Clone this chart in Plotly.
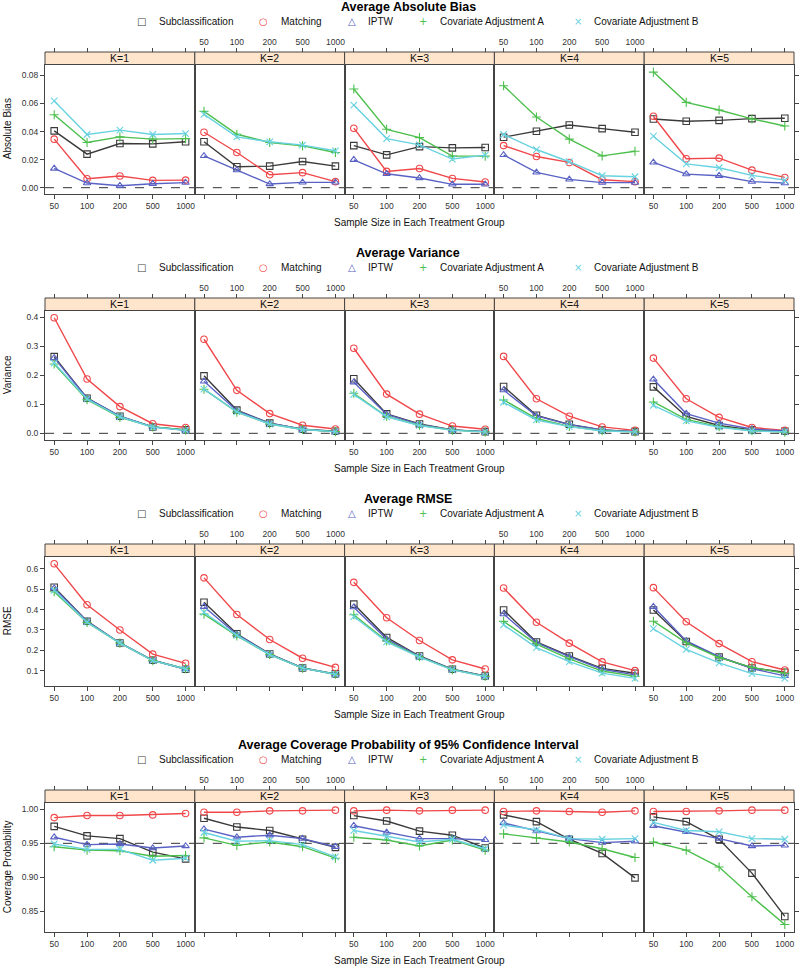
import plotly.graph_objects as go

W, H = 800, 969

sample_sizes = ["50", "100", "200", "500", "1000"]
k_labels = ["K=1", "K=2", "K=3", "K=4", "K=5"]
methods = ["Subclassification", "Matching", "IPTW",
           "Covariate Adjustment A", "Covariate Adjustment B"]

# each list: one row per K (1..5), columns follow sample_sizes
bias_sub = [
    [0.0405, 0.0239, 0.0315, 0.0312, 0.0327],
    [0.0327, 0.0149, 0.0154, 0.0187, 0.0154],
    [0.0300, 0.0234, 0.0293, 0.0284, 0.0286],
    [0.0360, 0.0402, 0.0447, 0.0421, 0.0395],
    [0.0490, 0.0473, 0.0480, 0.0492, 0.0495],
]
bias_match = [
    [0.0346, 0.0064, 0.0083, 0.0052, 0.0054],
    [0.0395, 0.0251, 0.0092, 0.0107, 0.0043],
    [0.0424, 0.0116, 0.0137, 0.0066, 0.0040],
    [0.0300, 0.0222, 0.0180, 0.0057, 0.0043],
    [0.0509, 0.0206, 0.0211, 0.0125, 0.0073],
]
bias_iptw = [
    [0.0137, 0.0033, 0.0014, 0.0028, 0.0036],
    [0.0227, 0.0125, 0.0026, 0.0038, 0.0038],
    [0.0199, 0.0099, 0.0069, 0.0024, 0.0024],
    [0.0234, 0.0109, 0.0059, 0.0036, 0.0036],
    [0.0180, 0.0097, 0.0085, 0.0043, 0.0033],
]
bias_cova = [
    [0.0520, 0.0322, 0.0362, 0.0346, 0.0350],
    [0.0544, 0.0381, 0.0322, 0.0298, 0.0251],
    [0.0703, 0.0416, 0.0357, 0.0225, 0.0225],
    [0.0727, 0.0504, 0.0346, 0.0227, 0.0260],
    [0.0824, 0.0608, 0.0554, 0.0490, 0.0440],
]
bias_covb = [
    [0.0618, 0.0379, 0.0410, 0.0379, 0.0386],
    [0.0523, 0.0362, 0.0327, 0.0303, 0.0263],
    [0.0589, 0.0350, 0.0305, 0.0204, 0.0232],
    [0.0379, 0.0272, 0.0185, 0.0085, 0.0078],
    [0.0367, 0.0170, 0.0142, 0.0088, 0.0054],
]

var_sub = [
    [0.264, 0.121, 0.059, 0.022, 0.012],
    [0.198, 0.080, 0.035, 0.014, 0.007],
    [0.188, 0.067, 0.032, 0.012, 0.006],
    [0.161, 0.062, 0.031, 0.012, 0.006],
    [0.160, 0.058, 0.027, 0.012, 0.007],
]
var_match = [
    [0.398, 0.187, 0.092, 0.033, 0.020],
    [0.324, 0.148, 0.068, 0.028, 0.015],
    [0.293, 0.135, 0.066, 0.025, 0.014],
    [0.265, 0.119, 0.059, 0.022, 0.010],
    [0.259, 0.119, 0.055, 0.020, 0.010],
]
var_iptw = [
    [0.260, 0.121, 0.058, 0.022, 0.010],
    [0.179, 0.078, 0.035, 0.014, 0.006],
    [0.176, 0.065, 0.031, 0.012, 0.006],
    [0.149, 0.060, 0.030, 0.012, 0.006],
    [0.186, 0.068, 0.035, 0.015, 0.008],
]
var_cova = [
    [0.239, 0.116, 0.055, 0.022, 0.012],
    [0.152, 0.073, 0.032, 0.013, 0.006],
    [0.138, 0.058, 0.028, 0.011, 0.005],
    [0.115, 0.051, 0.024, 0.009, 0.005],
    [0.108, 0.048, 0.023, 0.009, 0.004],
]
var_covb = [
    [0.242, 0.118, 0.057, 0.021, 0.010],
    [0.152, 0.074, 0.032, 0.013, 0.006],
    [0.134, 0.057, 0.027, 0.010, 0.005],
    [0.107, 0.046, 0.023, 0.008, 0.005],
    [0.096, 0.043, 0.021, 0.008, 0.005],
]

rmse_sub = [
    [0.510, 0.343, 0.236, 0.151, 0.107],
    [0.436, 0.281, 0.182, 0.113, 0.084],
    [0.427, 0.263, 0.172, 0.107, 0.074],
    [0.398, 0.241, 0.172, 0.111, 0.087],
    [0.398, 0.243, 0.167, 0.113, 0.092],
]
rmse_match = [
    [0.625, 0.424, 0.300, 0.181, 0.136],
    [0.556, 0.376, 0.253, 0.161, 0.116],
    [0.534, 0.360, 0.248, 0.153, 0.108],
    [0.506, 0.338, 0.235, 0.143, 0.100],
    [0.508, 0.340, 0.233, 0.144, 0.103],
]
rmse_iptw = [
    [0.505, 0.342, 0.236, 0.151, 0.108],
    [0.414, 0.278, 0.181, 0.113, 0.082],
    [0.412, 0.255, 0.170, 0.106, 0.073],
    [0.378, 0.238, 0.169, 0.107, 0.079],
    [0.414, 0.246, 0.169, 0.110, 0.074],
]
rmse_cova = [
    [0.488, 0.337, 0.235, 0.149, 0.110],
    [0.378, 0.271, 0.179, 0.112, 0.082],
    [0.375, 0.246, 0.168, 0.105, 0.072],
    [0.342, 0.230, 0.158, 0.098, 0.072],
    [0.343, 0.237, 0.164, 0.116, 0.087],
]
rmse_covb = [
    [0.495, 0.338, 0.235, 0.149, 0.108],
    [0.386, 0.273, 0.179, 0.112, 0.082],
    [0.366, 0.241, 0.166, 0.104, 0.071],
    [0.325, 0.213, 0.144, 0.088, 0.062],
    [0.306, 0.205, 0.138, 0.085, 0.062],
]

cover_sub = [
    [0.975, 0.961, 0.957, 0.937, 0.927],
    [0.987, 0.974, 0.969, 0.956, 0.944],
    [0.991, 0.983, 0.968, 0.962, 0.943],
    [0.992, 0.982, 0.956, 0.935, 0.899],
    [0.989, 0.982, 0.956, 0.906, 0.842],
]
cover_match = [
    [0.988, 0.991, 0.991, 0.992, 0.994],
    [0.996, 0.996, 0.998, 0.998, 0.999],
    [0.998, 0.999, 0.998, 0.999, 0.999],
    [0.997, 0.998, 0.997, 0.996, 0.998],
    [0.997, 0.997, 0.998, 0.999, 0.999],
]
cover_iptw = [
    [0.959, 0.948, 0.949, 0.943, 0.946],
    [0.971, 0.959, 0.962, 0.957, 0.945],
    [0.976, 0.966, 0.957, 0.957, 0.955],
    [0.980, 0.968, 0.957, 0.951, 0.953],
    [0.976, 0.967, 0.957, 0.946, 0.947],
]
cover_cova = [
    [0.945, 0.940, 0.939, 0.931, 0.932],
    [0.958, 0.947, 0.952, 0.945, 0.928],
    [0.959, 0.955, 0.946, 0.955, 0.940],
    [0.964, 0.958, 0.952, 0.942, 0.929],
    [0.952, 0.940, 0.915, 0.871, 0.830],
]
cover_covb = [
    [0.949, 0.941, 0.941, 0.925, 0.928],
    [0.966, 0.953, 0.954, 0.948, 0.930],
    [0.969, 0.960, 0.952, 0.956, 0.942],
    [0.977, 0.970, 0.957, 0.956, 0.957],
    [0.981, 0.969, 0.967, 0.957, 0.956],
]

FONT = "Liberation Sans, Arial, Helvetica, sans-serif"
AXIS_COLOR = "#444444"
TICK_FONT = dict(family=FONT, size=8.5, color="#333333")
STRIP_FILL = "#FFE5CC"

COLORS = ["#3a3a3a", "#F0474A", "#5962C4", "#4DBF4D", "#68D2E0"]
SYMBOLS = ["square-open", "circle-open", "triangle-up-open", "cross-thin-open", "x-thin-open"]
LEGEND_GLYPHS = ["\u25a1", "\u25cb", "\u25b3", "+", "\u00d7"]

metrics = [
    dict(title="Average Absolute Bias", ylab="Absolute Bias",
         series=[bias_sub, bias_match, bias_iptw, bias_cova, bias_covb],
         yrange=[-0.0045, 0.0878], ticks=[0.0, 0.02, 0.04, 0.06, 0.08], fmt=".2f", ref=0.0),
    dict(title="Average Variance", ylab="Variance",
         series=[var_sub, var_match, var_iptw, var_cova, var_covb],
         yrange=[-0.023, 0.423], ticks=[0.0, 0.1, 0.2, 0.3, 0.4], fmt=".1f", ref=0.0),
    dict(title="Average RMSE", ylab="RMSE",
         series=[rmse_sub, rmse_match, rmse_iptw, rmse_cova, rmse_covb],
         yrange=[0.0245, 0.661], ticks=[0.1, 0.2, 0.3, 0.4, 0.5, 0.6], fmt=".1f", ref=None),
    dict(title="Average Coverage Probability of 95% Confidence Interval",
         ylab="Coverage Probability",
         series=[cover_sub, cover_match, cover_iptw, cover_cova, cover_covb],
         yrange=[0.819, 1.0103], ticks=[0.85, 0.90, 0.95, 1.00], fmt=".2f", ref=0.95),
]

# pixel layout of the lattice
PANEL_X0, PANEL_W = 45.0, 149.8
ROW_STEP = 246
XRANGE = [-0.28, 4.28]
LEGEND_SYM_X = [141, 263, 352, 423, 578]
LEGEND_TXT_X = [157, 279, 366, 438, 592]


def fx(p):
    return p / W


def fy(p):
    return 1 - p / H


def ax_name(letter, n):
    return f"{letter}axis" if n == 1 else f"{letter}axis{n}"


def ax_ref(letter, n):
    return letter if n == 1 else f"{letter}{n}"


def label(text, x, y, size=10, color="#111111", family=FONT, xanchor="center", **kw):
    return dict(text=text, xref="paper", yref="paper", x=x, y=y,
                xanchor=xanchor, yanchor="middle", showarrow=False,
                font=dict(family=family, size=size, color=color), **kw)


fig = go.Figure()
layout = {}
shapes = []
annotations = []

for r, m in enumerate(metrics):
    off = ROW_STEP * r
    strip_top, strip_bot, panel_bot = 52 + off, 64.5 + off, 194 + off
    ydom = [fy(panel_bot), fy(strip_bot)]

    for c in range(5):
        n = r * 5 + c + 1
        top_n = 20 + n
        x0p = PANEL_X0 + PANEL_W * c
        xdom = [fx(x0p), fx(x0p + PANEL_W)]

        for s, series in enumerate(m["series"]):
            fig.add_trace(go.Scatter(
                x=sample_sizes, y=series[c], mode="lines+markers",
                name=methods[s], showlegend=False,
                line=dict(color=COLORS[s], width=1.4),
                marker=dict(symbol=SYMBOLS[s], size=6.5, color=COLORS[s],
                            line=dict(color=COLORS[s], width=1.1)),
                xaxis=ax_ref("x", n), yaxis=ax_ref("y", n),
            ))

        # invisible trace so the top tick axis knows the categories
        fig.add_trace(go.Scatter(
            x=sample_sizes, y=[None] * 5, mode="lines", showlegend=False,
            hoverinfo="skip", xaxis=ax_ref("x", top_n), yaxis=ax_ref("y", n),
        ))

        layout[ax_name("x", n)] = dict(
            domain=xdom, anchor=ax_ref("y", n), type="category", range=XRANGE,
            showline=True, mirror=True, linecolor=AXIS_COLOR, linewidth=1,
            ticks="outside", ticklen=4, tickcolor=AXIS_COLOR,
            showticklabels=(c % 2 == 0), tickfont=TICK_FONT,
            showgrid=False, zeroline=False, fixedrange=True,
        )
        layout[ax_name("x", top_n)] = dict(
            domain=xdom, overlaying=ax_ref("x", n), anchor="free",
            position=fy(strip_top), side="top", type="category", range=XRANGE,
            showline=False, ticks="outside", ticklen=4, tickcolor=AXIS_COLOR,
            showticklabels=(c % 2 == 1), tickfont=TICK_FONT,
            showgrid=False, zeroline=False, fixedrange=True,
        )
        layout[ax_name("y", n)] = dict(
            domain=ydom, anchor=ax_ref("x", n), range=m["yrange"],
            tickmode="array", tickvals=m["ticks"], tickformat=m["fmt"],
            showline=True, mirror=True, linecolor=AXIS_COLOR, linewidth=1,
            ticks="outside" if c == 0 else "", ticklen=4, tickcolor=AXIS_COLOR,
            showticklabels=(c == 0), tickfont=TICK_FONT,
            showgrid=False, zeroline=False, fixedrange=True,
        )

        if c == 4:
            right_n = 40 + r + 1
            fig.add_trace(go.Scatter(
                x=sample_sizes, y=[None] * 5, mode="lines", showlegend=False,
                hoverinfo="skip", xaxis=ax_ref("x", n), yaxis=ax_ref("y", right_n),
            ))
            layout[ax_name("y", right_n)] = dict(
                domain=ydom, overlaying=ax_ref("y", n), anchor=ax_ref("x", n),
                side="right", range=m["yrange"], tickmode="array",
                tickvals=m["ticks"], showticklabels=False, showline=False,
                ticks="outside", ticklen=4, tickcolor=AXIS_COLOR,
                showgrid=False, zeroline=False, fixedrange=True,
            )

        # strip with the K label
        shapes.append(dict(
            type="rect", xref="paper", yref="paper",
            x0=xdom[0], x1=xdom[1], y0=fy(strip_bot), y1=fy(strip_top),
            fillcolor=STRIP_FILL, line=dict(color=AXIS_COLOR, width=1),
        ))
        annotations.append(label(k_labels[c], (xdom[0] + xdom[1]) / 2,
                                 fy((strip_top + strip_bot) / 2), size=10.5))

        if m["ref"] is not None:
            shapes.append(dict(
                type="line", xref=f"{ax_ref('x', n)} domain", yref=ax_ref("y", n),
                x0=0, x1=1, y0=m["ref"], y1=m["ref"], layer="below",
                line=dict(color="#333333", width=1, dash="dash"),
            ))

    # row title, key, axis titles
    annotations.append(label(f"<b>{m['title']}</b>", fx(408), fy(7 + off),
                             size=12.5, color="#000000"))
    for s in range(5):
        annotations.append(label(LEGEND_GLYPHS[s], fx(LEGEND_SYM_X[s]), fy(21 + off),
                                 color=COLORS[s], family="DejaVu Sans"))
        annotations.append(label(methods[s], fx(LEGEND_TXT_X[s]), fy(21 + off),
                                 xanchor="left"))
    annotations.append(label("Sample Size in Each Treatment Group",
                             fx(419), fy(222.5 + off)))
    annotations.append(label(m["ylab"], fx(7), fy((strip_bot + panel_bot) / 2),
                             textangle=-90))

fig.update_layout(
    width=W, height=H,
    margin=dict(l=0, r=0, t=0, b=0),
    paper_bgcolor="white", plot_bgcolor="white",
    showlegend=False,
    shapes=shapes, annotations=annotations,
    **layout,
)

# drop the default page margin so the 800x969 figure fills the window
fig.write_html("out.html", config={"displayModeBar": False},
               post_script="document.body.style.margin='0px';")
